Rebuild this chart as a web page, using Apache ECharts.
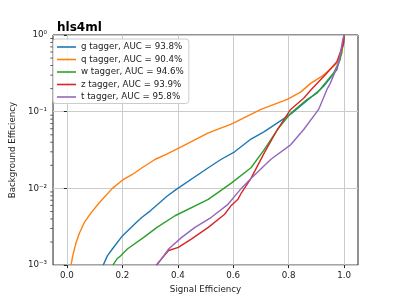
<!DOCTYPE html>
<html>
<head>
<meta charset="utf-8">
<script src="https://cdn.jsdelivr.net/npm/echarts@6/dist/echarts.min.js"></script>
<style>
html,body{margin:0;padding:0;background:#fff;}
#c{width:399px;height:299px;}
</style>
</head>
<body>
<div id="c"></div>
<script>
// Tick labels
const xTicks = [0.0, 0.2, 0.4, 0.6, 0.8, 1.0];
const yMinorTicks = [0.002,0.003,0.004,0.005,0.006,0.007,0.008,0.009,
                     0.02,0.03,0.04,0.05,0.06,0.07,0.08,0.09,
                     0.2,0.3,0.4,0.5,0.6,0.7,0.8,0.9];
const seriesNames = ['g tagger, AUC = 93.8%','q tagger, AUC = 90.4%','w tagger, AUC = 94.6%','z tagger, AUC = 93.9%','t tagger, AUC = 95.8%'];

// g tagger
const gX = [0.131,0.146,0.164,0.2,0.254,0.271,0.301,0.361,0.396,0.51,0.557,0.605,0.664,0.712,0.807,0.914,0.926,0.974,0.998,1.0];
const gY = [0.001,0.00132,0.00162,0.0024,0.0037,0.0042,0.0051,0.0079,0.0098,0.0186,0.024,0.030,0.044,0.055,0.093,0.195,0.214,0.355,0.78,1.0];
// q tagger
const qX = [0.015,0.021,0.033,0.045,0.063,0.087,0.117,0.164,0.2,0.236,0.271,0.319,0.36,0.414,0.51,0.593,0.7,0.795,0.843,0.879,0.926,0.974,0.992,0.998,1.0];
const qY = [0.001,0.00132,0.00196,0.0026,0.0036,0.0048,0.0065,0.0100,0.0128,0.0152,0.0186,0.024,0.028,0.035,0.053,0.069,0.107,0.145,0.18,0.234,0.30,0.43,0.58,0.95,1.0];
// w tagger
const wX = [0.166,0.182,0.194,0.218,0.277,0.325,0.39,0.51,0.593,0.664,0.712,0.76,0.807,0.867,0.902,0.962,0.986,0.998,1.0];
const wY = [0.001,0.00122,0.00132,0.00162,0.0023,0.0031,0.0044,0.0072,0.0117,0.0186,0.032,0.059,0.095,0.145,0.174,0.32,0.48,0.87,1.0];
// z tagger
const zX = [0.322,0.367,0.402,0.45,0.51,0.569,0.593,0.617,0.629,0.664,0.712,0.76,0.807,0.855,0.879,0.938,0.974,0.998,1.0];
const zY = [0.001,0.00155,0.0017,0.0022,0.0031,0.0046,0.006,0.0072,0.0087,0.0135,0.029,0.059,0.107,0.151,0.19,0.32,0.45,0.78,1.0];
// t tagger
const tX = [0.325,0.367,0.414,0.462,0.521,0.581,0.629,0.664,0.736,0.807,0.855,0.908,0.938,0.95,0.98,0.995,1.0];
const tY = [0.001,0.00162,0.0023,0.0031,0.0042,0.0062,0.010,0.0135,0.024,0.037,0.059,0.107,0.195,0.234,0.43,0.87,1.0];

const colors = ['#1f77b4','#ff7f0e','#2ca02c','#d62728','#9467bd'];
const xs = [gX,qX,wX,zX,tX];
const ys = [gY,qY,wY,zY,tY];

const FONT = 'DejaVu Sans';
const sup = {'0':'⁰','1':'¹','2':'²','3':'³','-':'⁻'};
function yFmt(v){
  const e = Math.round(Math.log10(v));
  return '10' + String(e).split('').map(c=>sup[c]).join('');
}

const lineSeries = seriesNames.map((n,i)=>({
  name:n, type:'line', symbol:'none', showSymbol:false, clip:true,
  color:colors[i],
  lineStyle:{color:colors[i], width:1.4},
  data: xs[i].map((x,j)=>[x, ys[i][j]])
}));

// minor ticks on the log axis (matplotlib style, 2..9 x 10^k), at the left edge of the axis
const minorTickSeries = {
  type:'scatter', name:'_minor', silent:true, clip:false, z:5,
  symbol:'rect', symbolSize:[2.5,1], symbolOffset:[-1.5,0],
  itemStyle:{color:'#333'},
  data: yMinorTicks.map(v=>[-0.05, v])
};

const chart = echarts.init(document.getElementById('c'), null, {renderer:'canvas'});
chart.setOption({
  animation:false,
  backgroundColor:'#fff',
  textStyle:{fontFamily:FONT},
  title:{text:'hls4ml', left:52, top:17,
    textStyle:{fontFamily:FONT, fontSize:12, fontWeight:'bold', color:'#000'}},
  grid:{left:50, top:35, right:41, bottom:33, show:true, borderColor:'#222', borderWidth:1, backgroundColor:'transparent'},
  legend:{
    orient:'vertical', left:53, top:39,
    padding:[3.5,5,2,4], itemGap:3.5, itemWidth:19, itemHeight:1.6, itemTextGap:6,
    icon:'rect',
    backgroundColor:'rgba(255,255,255,0.85)', borderColor:'#cccccc', borderWidth:1, borderRadius:3,
    textStyle:{fontFamily:FONT, fontSize:8.7, color:'#222'},
    data:seriesNames
  },
  xAxis:{
    type:'value', min:-0.05, max:1.05,
    name:'Signal Efficiency', nameLocation:'middle', nameGap:15,
    nameTextStyle:{fontFamily:FONT, fontSize:8.7, color:'#222'},
    axisLine:{show:false},
    axisTick:{show:true, inside:false, length:3, customValues:xTicks, lineStyle:{color:'#222'}},
    axisLabel:{customValues:xTicks, margin:6, fontFamily:FONT, fontSize:8.7, color:'#222', formatter:v=>v.toFixed(1)},
    splitLine:{show:true, lineStyle:{color:'#cbcbcb', width:1}}
  },
  yAxis:{
    type:'log', logBase:10, min:0.001, max:1,
    name:'Background Efficiency', nameLocation:'middle', nameGap:29,
    nameTextStyle:{fontFamily:FONT, fontSize:8.7, color:'#222'},
    axisLine:{show:false},
    axisTick:{show:true, inside:false, length:3, lineStyle:{color:'#222'}},
    axisLabel:{margin:6, fontFamily:FONT, fontSize:8.7, color:'#222', formatter:yFmt},
    splitLine:{show:true, lineStyle:{color:'#cbcbcb', width:1}}
  },
  series: lineSeries.concat([minorTickSeries])
});
</script>
</body>
</html>
